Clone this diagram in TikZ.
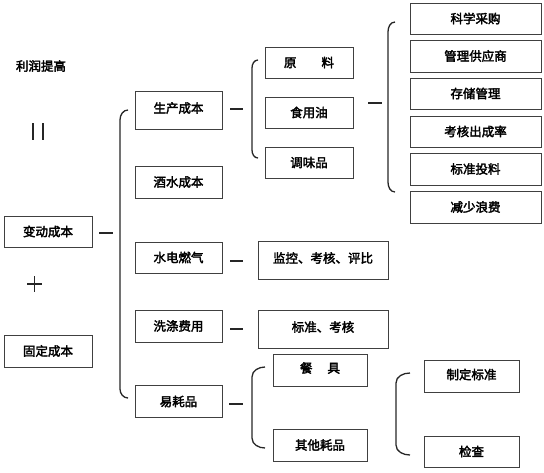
\documentclass[tikz,border=0pt]{standalone}
\usepackage{fontspec}
\newfontfamily\cjk[FakeBold=2.6]{Noto Sans CJK SC}
\begin{document}
\begin{tikzpicture}[x=1pt,y=-1pt,
  box/.style={draw=black!75,line width=0.8pt,inner sep=0pt,font=\cjk\fontsize{12.5}{14}\selectfont,text=black},
  lbl/.style={inner sep=0pt,font=\cjk\fontsize{12.5}{14}\selectfont,text=black},
  brk/.style={line width=1.3pt,black!85},
  dsh/.style={line width=1.5pt,black!85}]
\useasboundingbox (0,0) rectangle (544,472);
% left column
\node[lbl] (lr) at (41,66) {利润提高};
\node[box,minimum width=88pt,minimum height=31pt] (bd) at (48,231.5) {变动成本};
\node[box,minimum width=88pt,minimum height=32pt] (gd) at (48,351) {固定成本};
\coordinate (eqa) at (33,123); \coordinate (eqb) at (33,140);
\coordinate (eqc) at (43,123); \coordinate (eqd) at (43,140);
\draw[dsh] (eqa) -- (eqb) (eqc) -- (eqd);
\coordinate (pa) at (27,284); \coordinate (pb) at (42,284);
\coordinate (pc) at (34.5,276); \coordinate (pd) at (34.5,292);
\draw[dsh] (pa) -- (pb) (pc) -- (pd);
% second column
\node[box,minimum width=87pt,minimum height=38pt,text depth=5pt] (sc) at (178.5,110) {生产成本};
\node[box,minimum width=87pt,minimum height=32pt] (js) at (178.5,182) {酒水成本};
\node[box,minimum width=87pt,minimum height=31pt] (sd) at (178.5,257.5) {水电燃气};
\node[box,minimum width=87pt,minimum height=32pt] (xd) at (178.5,326) {洗涤费用};
\node[box,minimum width=87pt,minimum height=32pt] (yh) at (178.5,401.5) {易耗品};
% third column
\node[box,minimum width=88pt,minimum height=31pt] (yl) at (309,62.5) {原\hspace{2em}料};
\node[box,minimum width=88pt,minimum height=31pt] (sy) at (309,112.5) {食用油};
\node[box,minimum width=88pt,minimum height=31pt] (tw) at (309,162.5) {调味品};
\node[box,minimum width=130pt,minimum height=38pt,text depth=5pt] (jk) at (323,260) {监控、考核、评比};
\node[box,minimum width=130pt,minimum height=38pt,text depth=5pt] (bz) at (323,329) {标准、考核};
\node[box,minimum width=94pt,minimum height=32pt,text depth=5pt] (cj) at (320,370) {餐\hspace{1.2em}具};
\node[box,minimum width=94pt,minimum height=32pt] (qt) at (320,445) {其他耗品};
% fourth column
\node[box,minimum width=131pt,minimum height=31pt] (k1) at (475.5,18.5) {科学采购};
\node[box,minimum width=131pt,minimum height=32pt] (k2) at (475.5,56) {管理供应商};
\node[box,minimum width=131pt,minimum height=31pt] (k3) at (475.5,93.5) {存储管理};
\node[box,minimum width=131pt,minimum height=31pt] (k4) at (475.5,131.5) {考核出成率};
\node[box,minimum width=131pt,minimum height=32pt] (k5) at (475.5,169) {标准投料};
\node[box,minimum width=131pt,minimum height=32pt] (k6) at (475.5,207) {减少浪费};
\node[box,minimum width=95pt,minimum height=32pt,text depth=4pt] (zd) at (471.5,376) {制定标准};
\node[box,minimum width=95pt,minimum height=31pt] (jc) at (471.5,451.5) {检查};
% dashes
\coordinate (d1a) at (99,233); \coordinate (d1b) at (113,233);
\coordinate (d2a) at (230,109); \coordinate (d2b) at (243,109);
\coordinate (d3a) at (230,261); \coordinate (d3b) at (243,261);
\coordinate (d4a) at (230,329); \coordinate (d4b) at (243,329);
\coordinate (d5a) at (229,404); \coordinate (d5b) at (243,404);
\coordinate (d6a) at (368,103); \coordinate (d6b) at (382,103);
\draw[dsh] (d1a)--(d1b) (d2a)--(d2b) (d3a)--(d3b) (d4a)--(d4b) (d5a)--(d5b) (d6a)--(d6b);
% brackets
\draw[brk] (128,110) to[out=180,in=90] (120,120) -- (120,389) to[out=270,in=180] (128,398);
\draw[brk] (258,60) to[out=180,in=90] (252,68) -- (252,150) to[out=270,in=180] (258,158);
\draw[brk] (395,22) to[out=180,in=90] (388,32) -- (388,182) to[out=270,in=180] (395,192);
\draw[brk] (265,367) to[out=180,in=90] (252,377) -- (252,438) to[out=270,in=180] (265,448);
\draw[brk] (410,373) to[out=180,in=90] (396,383) -- (396,445) to[out=270,in=180] (410,455);
\end{tikzpicture}
\end{document}
